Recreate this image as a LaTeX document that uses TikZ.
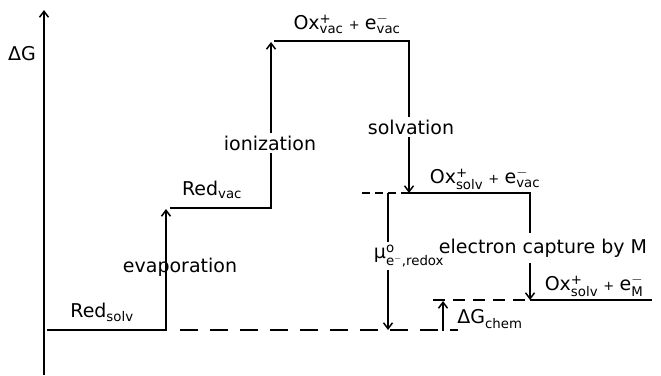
\documentclass[tikz,border=0pt]{standalone}
\usepackage{amsmath}
\usepackage{fontspec}
\setmainfont{DejaVu Sans}
\usetikzlibrary{arrows.meta}

\begin{document}
\begin{tikzpicture}[x=1pt,y=-1pt,line width=1.5pt,
	>={Straight Barb[length=6pt,width=9pt]},
	every node/.style={font=\fontsize{19}{22}\selectfont,inner sep=2pt}]
	\tikzstyle{dashlong}=[dash pattern=on 18pt off 12pt]
	\tikzstyle{dashshort}=[dash pattern=on 8pt off 5pt]
	\tikzstyle{dashmid}=[dash pattern=on 12pt off 8pt]
	\useasboundingbox (0,0) rectangle (661,375);
	% axis
	\coordinate (ax0) at (44,375);
	\coordinate (ax1) at (44,10);
	\draw[->] (ax0) -- (ax1);
	\node (dg) at (22,54) {ΔG};
	% energy levels
	\coordinate (rs0) at (47,330);
	\coordinate (rs1) at (166,330);
	\coordinate (evtip) at (166,209);
	\coordinate (rv0) at (170,208);
	\coordinate (rv1) at (271,208);
	\coordinate (iotip) at (271,42);
	\coordinate (ov0) at (274,41);
	\coordinate (ov1) at (409,41);
	\coordinate (os0) at (409,193);
	\coordinate (os1) at (530,193);
	\coordinate (om0) at (530,300);
	\coordinate (om1) at (652,300);
	% labels
	\node (redsolv) at (102,312) {Red$_{\text{solv}}$};
	\node (redvac) at (212,190) {Red$_{\text{vac}}$};
	\node (oxvac) at (347,24) {Ox$^{\text{+}}_{\text{vac}}$\;{\fontsize{13}{13}\selectfont +}\;e$^{-}_{\text{vac}}$};
	\node (oxsolv) at (485,179) {Ox$^{\text{+}}_{\text{solv}}$\;{\fontsize{13}{13}\selectfont +}\;e$^{-}_{\text{vac}}$};
	\node (oxm) at (594,286) {Ox$^{\text{+}}_{\text{solv}}$\;{\fontsize{13}{13}\selectfont +}\;e$^{-}_{\text{M}}$};
	\node (evap) at (180,267) {evaporation};
	\node (ioniz) at (270,143) {ionization};
	\node (solv) at (411,127) {solvation};
	\node[inner sep=5pt] (capt) at (543,248) {electron capture by M};
	\node (mulbl) at (409,256) {μ$^{\text{o}}_{\text{e}^{-}\text{,redox}}$};
	\node (dgchem) at (490,319) {ΔG$_{\text{chem}}$};
	% steps
	\draw (rs0) -- (rs1) -- (evap.north -| rs1);
	\draw[->] (evap.south -| rs1) -- (evtip);
	\draw (rv0) -- (rv1) -- (ioniz.south -| rv1);
	\draw[->] (ioniz.north -| rv1) -- (iotip);
	\draw (ov0) -- (ov1) -- (solv.north -| ov1);
	\draw[->] (solv.south -| ov1) -- (os0);
	\draw (os0) -- (os1) -- (capt.north -| os1);
	\draw[->] (capt.south -| os1) -- (om0);
	\draw (om0) -- (om1);
	% reference lines
	\coordinate (mu0) at (388,193);
	\coordinate (mu1) at (388,330);
	\coordinate (ch0) at (443,331);
	\coordinate (ch1) at (443,301);
	\draw[dashlong] (180,330) coordinate (bl0) -- (458,330) coordinate (bl1);
	\draw[dashshort] (362,193) coordinate (tl0) -- (os0);
	\draw[dashmid] (433,300) coordinate (ml0) -- (om0);
	\draw (mu0) -- (mulbl.north -| mu0);
	\draw[->] (mulbl.south -| mu0) -- (mu1);
	\draw[->] (ch0) -- (ch1);
\end{tikzpicture}
\end{document}
